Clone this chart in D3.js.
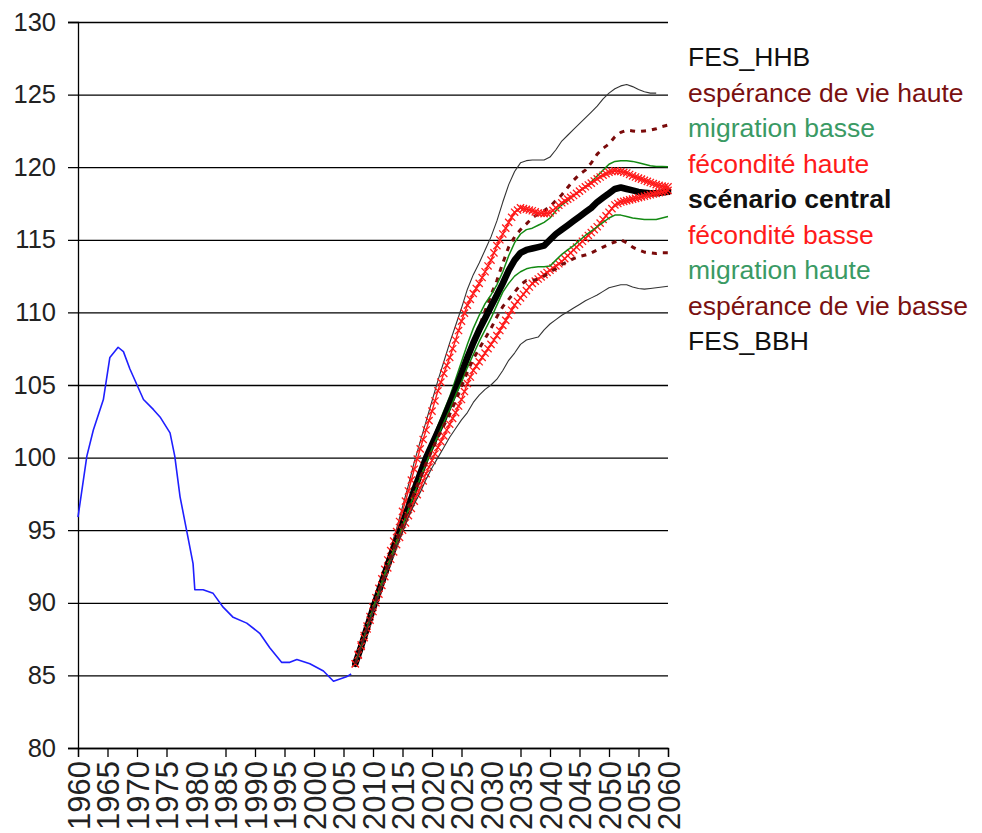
<!DOCTYPE html>
<html>
<head>
<meta charset="utf-8">
<script src="https://cdn.jsdelivr.net/npm/d3@7"></script>
<style>
  body { margin: 0; background: #fff; }
  text { font-family: "Liberation Sans", Arial, sans-serif; }
</style>
</head>
<body>
<div id="chart"></div>
<script>
// historical series (year, value)
const observed = [
  [1960, 95.9], [1961.5, 100.1], [1962.6, 101.9], [1964.3, 104.0], [1965.4, 106.9],
  [1966.8, 107.6], [1967.7, 107.3], [1968.8, 106.1], [1971.1, 104.0], [1972.8, 103.3],
  [1973.9, 102.8], [1975.6, 101.7], [1976.4, 100.1], [1977.3, 97.3], [1978.4, 95.0],
  [1979.5, 92.7], [1979.8, 90.9], [1981.2, 90.9], [1982.9, 90.65], [1984.6, 89.7],
  [1986.3, 89.0], [1988.6, 88.6], [1990.8, 87.9], [1992.5, 86.9], [1994.5, 85.9],
  [1995.9, 85.9], [1997.1, 86.1], [1999.3, 85.8], [2001.6, 85.3], [2003.3, 84.6],
  [2005.5, 84.9], [2006.3, 85.1]
]

// projections, one value per year from 2007 to 2060
const projYears = d3.range(2007, 2061)

const hhb = [85.8, 87.1, 88.4, 89.8, 91.1, 92.4, 93.8, 95.1, 96.6, 98.1,
  99.7, 101.1, 102.5, 103.9, 105.3, 106.6, 107.9, 109.1, 110.3, 111.6,
  112.6, 113.4, 114.3, 115.2, 116.3, 117.6, 118.8, 119.7, 120.3, 120.45,
  120.5, 120.5, 120.5, 120.7, 121.2, 121.8, 122.2, 122.6, 123.0, 123.4,
  123.8, 124.2, 124.7, 125.1, 125.4, 125.6, 125.7, 125.55, 125.35, 125.2,
  125.1, 125.1, null, null]
const espHaute = [85.8, 87.0, 88.3, 89.6, 90.8, 92.0, 93.2, 94.3, 95.4, 96.6,
  97.8, 98.9, 100.0, 100.9, 101.8, 102.7, 103.7, 104.7, 105.8, 106.9,
  108.0, 109.0, 110.1, 111.2, 112.2, 113.4, 114.5, 115.2, 115.7, 116.1,
  116.5, 116.8, 117.0, 117.3, 117.7, 118.1, 118.6, 119.1, 119.5, 119.8,
  120.3, 120.9, 121.3, 121.6, 122.1, 122.4, 122.55, 122.5, 122.45, 122.5,
  122.55, 122.65, 122.8, 122.9]
const migBasse = [85.8, 87.0, 88.3, 89.6, 90.8, 92.0, 93.2, 94.4, 95.5, 96.7,
  97.9, 99.1, 100.2, 101.2, 102.2, 103.2, 104.2, 105.4, 106.6, 107.8,
  108.9, 109.8, 110.6, 111.2, 111.9, 112.8, 113.9, 114.8, 115.4, 115.7,
  115.8, 116.0, 116.2, 116.5, 117.0, 117.4, 117.7, 118.05, 118.35, 118.65,
  119.0, 119.4, 119.8, 120.2, 120.4, 120.45, 120.45, 120.4, 120.3, 120.2,
  120.1, 120.05, 120.05, 120.03]
const fecHaute = [85.8, 87.1, 88.4, 89.7, 91.0, 92.3, 93.6, 94.9, 96.3, 97.7,
  99.2, 100.6, 101.9, 103.2, 104.6, 105.8, 106.9, 108.1, 109.4, 110.5,
  111.3, 112.0, 112.8, 113.6, 114.6, 115.4, 116.2, 116.9, 117.2, 117.1,
  117.0, 116.85, 116.8, 116.85, 117.2, 117.55, 117.8, 118.05, 118.35, 118.65,
  118.9, 119.2, 119.45, 119.65, 119.75, 119.7, 119.6, 119.4, 119.25, 119.1,
  118.95, 118.8, 118.7, 118.65]
const central = [85.8, 87.0, 88.3, 89.6, 90.8, 92.0, 93.2, 94.3, 95.4, 96.6,
  97.8, 98.9, 100.0, 100.9, 101.8, 102.7, 103.7, 104.7, 105.8, 106.9,
  107.9, 108.8, 109.6, 110.4, 111.2, 112.0, 112.9, 113.6, 114.1, 114.3,
  114.4, 114.5, 114.6, 115.0, 115.4, 115.7, 116.0, 116.3, 116.6, 116.9,
  117.2, 117.6, 117.9, 118.2, 118.5, 118.6, 118.5, 118.4, 118.3, 118.25,
  118.2, 118.2, 118.25, 118.3]
const fecBasse = [85.8, 87.0, 88.2, 89.4, 90.6, 91.8, 93.0, 94.0, 95.0, 96.0,
  97.0, 97.9, 98.9, 99.8, 100.7, 101.5, 102.3, 103.1, 104.0, 105.1,
  106.0, 106.6, 107.2, 107.8, 108.4, 109.1, 109.8, 110.5, 111.0, 111.5,
  112.0, 112.3, 112.6, 112.9, 113.2, 113.5, 113.9, 114.3, 114.7, 115.1,
  115.5, 115.9, 116.4, 116.9, 117.4, 117.6, 117.7, 117.8, 117.9, 118.0,
  118.1, 118.2, 118.3, 118.4]
const migHaute = [85.8, 87.0, 88.3, 89.6, 90.8, 92.0, 93.1, 94.2, 95.3, 96.4,
  97.5, 98.6, 99.6, 100.6, 101.5, 102.4, 103.3, 104.3, 105.2, 106.2,
  107.1, 108.0, 108.8, 109.6, 110.5, 111.4, 112.0, 112.5, 112.8, 113.0,
  113.1, 113.15, 113.15, 113.2, 113.6, 114.0, 114.3, 114.6, 114.95, 115.3,
  115.6, 115.9, 116.2, 116.5, 116.7, 116.7, 116.6, 116.5, 116.45, 116.4,
  116.4, 116.4, 116.5, 116.6]
const espBasse = [85.8, 87.0, 88.3, 89.6, 90.8, 92.0, 93.2, 94.3, 95.4, 96.5,
  97.6, 98.6, 99.6, 100.5, 101.4, 102.2, 103.0, 103.9, 104.9, 105.9,
  106.8, 107.5, 108.2, 108.9, 109.7, 110.4, 110.9, 111.4, 111.9, 112.2,
  112.2, 112.3, 112.5, 112.8, 113.0, 113.3, 113.5, 113.7, 113.85, 113.95,
  114.1, 114.3, 114.5, 114.7, 114.85, 115.0, 114.8, 114.5, 114.3, 114.15,
  114.1, 114.05, 114.1, 114.1]
const bbh = [85.8, 87.0, 88.2, 89.4, 90.5, 91.7, 92.8, 93.9, 94.9, 95.9,
  96.8, 97.6, 98.5, 99.3, 100.0, 100.7, 101.4, 102.0, 102.6, 103.1,
  103.8, 104.3, 104.7, 105.0, 105.4, 106.0, 106.7, 107.2, 107.8, 108.1,
  108.2, 108.3, 108.8, 109.2, 109.5, 109.8, 110.05, 110.3, 110.55, 110.8,
  111.0, 111.2, 111.45, 111.7, 111.8, 111.9, 111.9, 111.75, 111.65, 111.6,
  111.65, 111.7, 111.75, 111.8]

const yTicks = [80, 85, 90, 95, 100, 105, 110, 115, 120, 125, 130]
const xTicks = d3.range(1960, 2061, 5)
const noTickMark = [1980, 2030]   // the original has no tick mark at these two

// series in legend order, later ones drawn on top
const series = [
  {name: "FES_HHB", values: hhb, kind: "thin", color: "#333", text: "#111"},
  {name: "espérance de vie haute", values: espHaute, kind: "dash", color: "#7a0a0a", text: "#7a1010"},
  {name: "migration basse", values: migBasse, kind: "green", color: "#138a13", text: "#3a9a64"},
  {name: "fécondité haute", values: fecHaute, kind: "cross", color: "#ff1a1a", text: "#ff1a1a"},
  {name: "scénario central", values: central, kind: "bold", color: "#000", text: "#111"},
  {name: "fécondité basse", values: fecBasse, kind: "cross", color: "#ff1a1a", text: "#ff1a1a"},
  {name: "migration haute", values: migHaute, kind: "green", color: "#138a13", text: "#3a9a64"},
  {name: "espérance de vie basse", values: espBasse, kind: "dash", color: "#7a0a0a", text: "#7a1010"},
  {name: "FES_BBH", values: bbh, kind: "thin", color: "#333", text: "#111"}
]

const width = 982, height = 833
const margin = {top: 22, right: 314, bottom: 85, left: 78}
const plotW = width - margin.left - margin.right
const plotH = height - margin.top - margin.bottom

const x = d3.scaleLinear().domain([1960, 2060]).range([0, plotW])
const y = d3.scaleLinear().domain([80, 130]).range([plotH, 0])

const svg = d3.select("#chart").append("svg")
    .attr("width", width)
    .attr("height", height)

const g = svg.append("g")
    .attr("transform", "translate(" + margin.left + "," + margin.top + ")")

// y axis with gridlines running across the plot
const yAxis = g.append("g")
    .call(d3.axisLeft(y).tickValues(yTicks).tickSize(10).tickPadding(12))
yAxis.select(".domain").attr("stroke", "#000").attr("stroke-width", 1.3)
yAxis.selectAll(".tick line")
    .attr("x1", plotW)
    .attr("stroke", "#000")
    .attr("stroke-width", 1.3)
yAxis.selectAll(".tick text")
    .attr("font-size", 25.5)
    .attr("fill", "#222")

// x axis, labels turned upright
const xAxis = g.append("g")
    .attr("transform", "translate(0," + plotH + ")")
    .call(d3.axisBottom(x).tickValues(xTicks).tickSize(9).tickFormat(d3.format("d")))
xAxis.select(".domain").attr("stroke", "#000").attr("stroke-width", 1.3)
xAxis.selectAll(".tick line")
    .attr("stroke", "#000")
    .attr("stroke-width", 1.3)
    .attr("opacity", d => noTickMark.includes(d) ? 0 : 1)
xAxis.selectAll(".tick text")
    .attr("font-size", 31)
    .attr("fill", "#222")
    .attr("text-anchor", "end")
    .attr("transform", "rotate(-90)")
    .attr("x", -13)
    .attr("y", 0)
    .attr("dy", "0.36em")

const line = d3.line()
    .defined(d => d[1] != null)
    .x(d => x(d[0]))
    .y(d => y(d[1]))

// observed part
g.append("path")
    .datum(observed)
    .attr("fill", "none")
    .attr("stroke", "#1f1fff")
    .attr("stroke-width", 1.6)
    .attr("stroke-linejoin", "round")
    .attr("d", line)

const lines = g.append("g")
series.forEach(s => {
  const pts = projYears.map((yr, i) => [yr, s.values[i]])
  const p = lines.append("path")
      .datum(pts)
      .attr("fill", "none")
      .attr("stroke", s.color)
      .attr("stroke-linejoin", "round")
      .attr("d", line)
  if (s.kind == "thin") p.attr("stroke-width", 1.1)
  if (s.kind == "dash") p.attr("stroke-width", 3).attr("stroke-dasharray", "5 6")
  if (s.kind == "green") p.attr("stroke-width", 1.5)
  if (s.kind == "bold") p.attr("stroke-width", 6.5).attr("stroke-linecap", "round")
  if (s.kind == "cross") {
    p.attr("stroke-width", 1.4)
    // x markers on each point and halfway along each segment
    const px = pts.map(d => [x(d[0]), y(d[1])])
    const marks = []
    px.forEach((d, i) => {
      marks.push(d)
      if (i < px.length - 1) marks.push([(d[0] + px[i + 1][0]) / 2, (d[1] + px[i + 1][1]) / 2])
    })
    lines.append("g")
      .selectAll("path")
      .data(marks)
      .join("path")
        .attr("transform", d => "translate(" + d[0] + "," + d[1] + ")")
        .attr("d", "M-3.6,-3.6L3.6,3.6M-3.6,3.6L3.6,-3.6")
        .attr("stroke", s.color)
        .attr("stroke-width", 1.3)
  }
})

// legend as coloured labels
svg.append("g")
  .selectAll("text")
  .data(series)
  .join("text")
    .attr("x", 688)
    .attr("y", (d, i) => 66 + i * 35.5)
    .attr("font-size", 26.5)
    .attr("font-weight", d => d.kind == "bold" ? "bold" : "normal")
    .attr("fill", d => d.text)
    .text(d => d.name)
</script>
</body>
</html>
